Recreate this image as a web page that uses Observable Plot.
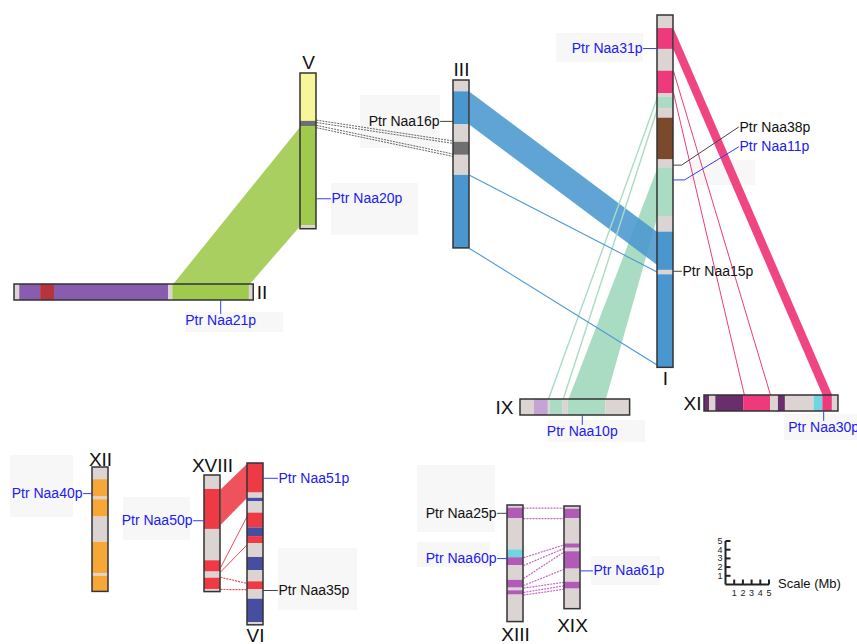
<!DOCTYPE html>
<html><head><meta charset="utf-8">
<script src="https://cdn.jsdelivr.net/npm/d3@7"></script>
<script src="https://cdn.jsdelivr.net/npm/@observablehq/plot@0.6"></script>
<style>body{margin:0;background:#fff}</style>
</head><body><div id="chart"></div>
<script>
// ---------------- DATA (positions along chromosomes in Mb) ----------------
const chromNames     = ["I","II","III","V","IX","XI","XII","XVIII","VI","XIII","XIX"];
const chromLengthsMb = [40.5, 27.5, 19.3, 17.9, 12.6, 15.4, 14.3, 13.4, 18.6, 13.4, 11.8];

// bands: [startMb, endMb, class]
const bandsI     = [[0,1.5,"n"],[1.5,3.9,"pink"],[3.9,6.4,"n"],[6.4,9.0,"pink"],[9.0,9.4,"n"],[9.4,10.7,"mint"],[10.7,11.8,"n"],[11.8,16.6,"brown"],[16.6,17.5,"n"],[17.5,23.1,"mint"],[23.1,24.9,"n"],[24.9,29.3,"blue"],[29.3,29.8,"n"],[29.8,40.5,"blue"]];
const bandsII    = [[0,0.6,"n"],[0.6,3.0,"purple"],[3.0,4.6,"darkred"],[4.6,17.7,"purple"],[17.7,18.2,"n"],[18.2,27.0,"green"],[27.0,27.5,"n"]];
const bandsIII   = [[0,1.3,"n"],[1.3,5.1,"blue"],[5.1,7.1,"n"],[7.1,8.6,"dgray"],[8.6,10.9,"n"],[10.9,19.3,"blue"]];
const bandsV     = [[0,5.5,"yellow"],[5.5,6.1,"dgray"],[6.1,17.5,"green"],[17.5,17.9,"n"]];
const bandsIX    = [[0,1.6,"n"],[1.6,3.2,"lilac"],[3.2,3.4,"n"],[3.4,4.9,"mint"],[4.9,5.5,"n"],[5.5,9.8,"mint"],[9.8,12.6,"n"]];
const bandsXI    = [[0,0.6,"plum"],[0.6,1.3,"n"],[1.3,4.5,"plum"],[4.5,7.6,"pink"],[7.6,8.5,"n"],[8.5,9.3,"plum"],[9.3,12.6,"n"],[12.6,13.6,"cyan"],[13.6,14.7,"pink"],[14.7,15.4,"n"]];
const bandsXII   = [[0,1.4,"n"],[1.4,3.4,"orange"],[3.4,3.7,"n"],[3.7,5.7,"orange"],[5.7,8.6,"n"],[8.6,12.2,"orange"],[12.2,12.5,"n"],[12.5,14.3,"orange"]];
const bandsXVIII = [[0,1.6,"n"],[1.6,6.2,"red"],[6.2,9.8,"n"],[9.8,11.1,"red"],[11.1,11.8,"n"],[11.8,13.1,"red"],[13.1,13.4,"n"]];
const bandsVI    = [[0,3.4,"red"],[3.4,4.0,"n"],[4.0,4.4,"navy"],[4.4,5.7,"n"],[5.7,7.4,"red"],[7.4,8.4,"navy"],[8.4,9.2,"red"],[9.2,10.8,"n"],[10.8,12.3,"navy"],[12.3,13.6,"n"],[13.6,14.5,"red"],[14.5,15.6,"n"],[15.6,18.3,"navy"],[18.3,18.6,"n"]];
const bandsXIII  = [[0,0.3,"n"],[0.3,1.5,"mauve"],[1.5,5.1,"n"],[5.1,6.0,"cyan"],[6.0,6.9,"mauve"],[6.9,8.6,"n"],[8.6,9.5,"mauve"],[9.5,9.8,"n"],[9.8,10.3,"mauve"],[10.3,13.4,"n"]];
const bandsXIX   = [[0,0.3,"n"],[0.3,1.4,"mauve"],[1.4,4.3,"n"],[4.3,4.8,"mauve"],[4.8,5.2,"n"],[5.2,7.2,"mauve"],[7.2,8.7,"n"],[8.7,9.5,"mauve"],[9.5,11.8,"n"]];
const chromBands = [bandsI,bandsII,bandsIII,bandsV,bandsIX,bandsXI,bandsXII,bandsXVIII,bandsVI,bandsXIII,bandsXIX];

// syntenic blocks: [fromChrom, fromStartMb, fromEndMb, toChrom, toStartMb, toEndMb, class]
const blockLinks = [
  ["V",6.1,17.5,"II",18.2,27.0,"green"],
  ["I",17.5,23.1,"IX",5.5,9.8,"mint"],
  ["III",1.3,5.1,"I",24.9,28.7,"blue"],
  ["I",1.5,3.9,"XI",14.7,13.6,"pink"],
  ["XVIII",1.6,5.7,"VI",0,3.9,"red"]
];
// single-gene links: [fromChrom, fromMb, toChrom, toMb, class]
const pairLinks = [
  ["V",5.5,"III",7.1,"gray"],["V",6.1,"III",8.6,"gray"],
  ["I",9.4,"IX",3.2,"mint"],["I",10.7,"IX",4.9,"mint"],
  ["III",10.9,"I",29.5,"blue"],["III",19.3,"I",40.2,"blue"],
  ["I",6.4,"XI",7.6,"pink"],["I",8.9,"XI",4.6,"pink"],
  ["XVIII",10.6,"VI",6.0,"red"],["XVIII",11.1,"VI",9.3,"red"],
  ["XVIII",11.7,"VI",13.8,"reddot"],["XVIII",13.1,"VI",14.5,"reddot"],
  ["XIII",0.3,"XIX",0.2,"mauve"],["XIII",1.5,"XIX",1.4,"mauve"],
  ["XIII",6.0,"XIX",4.4,"mauve"],["XIII",6.9,"XIX",4.8,"mauve"],
  ["XIII",8.4,"XIX",5.2,"mauve"],["XIII",9.2,"XIX",7.2,"mauve"],
  ["XIII",9.5,"XIX",8.7,"mauve"],["XIII",10.0,"XIX",9.1,"mauve"],
  ["XIII",10.3,"XIX",9.5,"mauve"]
];
// gene labels: [text, chrom, Mb, colour class]
const geneLabels = [
  ["Ptr Naa16p","III",4.7,"k"],["Ptr Naa20p","V",14.4,"b"],["Ptr Naa21p","II",23.7,"b"],
  ["Ptr Naa31p","I",3.8,"b"],["Ptr Naa38p","I",17.2,"k"],["Ptr Naa11p","I",18.9,"b"],
  ["Ptr Naa15p","I",29.4,"k"],["Ptr Naa10p","IX",7.1,"b"],["Ptr Naa30p","XI",13.7,"b"],
  ["Ptr Naa40p","XII",3.0,"b"],["Ptr Naa50p","XVIII",5.2,"b"],["Ptr Naa51p","VI",1.7,"b"],
  ["Ptr Naa35p","VI",14.6,"k"],["Ptr Naa25p","XIII",0.9,"k"],["Ptr Naa60p","XIII",6.1,"b"],
  ["Ptr Naa61p","XIX",7.4,"b"]
];
const scaleTicks = [1,2,3,4,5];
const scaleTitle = "Scale (Mb)";

// ---------------- LAYOUT & STYLE ----------------
const K = 8.7;   // px per Mb
const W = 16;    // chromosome thickness
const layout = {
  I:{x:657,y:15,o:"v",nm:"bottom",g:11}, II:{x:14,y:284,o:"h",nm:"right",g:3},
  III:{x:453,y:80,o:"v",nm:"top",g:11}, V:{x:300,y:73,o:"v",nm:"top",g:11},
  IX:{x:520,y:399,o:"h",nm:"left",g:7}, XI:{x:704,y:395,o:"h",nm:"left",g:3},
  XII:{x:92,y:467,o:"v",nm:"top",g:8}, XVIII:{x:204,y:475,o:"v",nm:"top",g:10},
  VI:{x:247,y:463,o:"v",nm:"bottom",g:11}, XIII:{x:507,y:505,o:"v",nm:"bottom",g:13},
  XIX:{x:564,y:506,o:"v",nm:"bottom",g:17}
};
const labelLayout = {
  "Ptr Naa16p":{side:"left",len:13}, "Ptr Naa20p":{side:"right",len:14}, "Ptr Naa21p":{side:"bottom",len:13},
  "Ptr Naa31p":{side:"left",len:14}, "Ptr Naa38p":{side:"right",elbow:[8,65,-38]}, "Ptr Naa11p":{side:"right",elbow:[11,65,-33]},
  "Ptr Naa15p":{side:"right",len:8}, "Ptr Naa10p":{side:"bottom",len:9}, "Ptr Naa30p":{side:"bottom",len:9},
  "Ptr Naa40p":{side:"left",len:9}, "Ptr Naa50p":{side:"left",len:11}, "Ptr Naa51p":{side:"right",len:14},
  "Ptr Naa35p":{side:"right",len:14}, "Ptr Naa25p":{side:"left",len:10}, "Ptr Naa60p":{side:"left",len:10},
  "Ptr Naa61p":{side:"right",len:12}
};
const labelBoxes = [[10,455,73,517],[123,497,190,540],[278,548,357,610],[417,465,495,532],[417,542,490,567],
  [591,556,660,585],[331,183,418,235],[360,95,440,148],[185,312,283,332],[556,33,643,62],[690,160,755,185],[548,420,645,442],[784,414,857,440]];
const scaleOrigin = {x:725, y:584};

const bandColor = {n:"#dcd3d3",pink:"#ee3a7c",brown:"#7b4a2b",mint:"#a9dcc2",blue:"#4a97d0",purple:"#8a5cb0",
  darkred:"#b5343f",green:"#9fca4e",yellow:"#f8f69b",dgray:"#6f6f6f",lilac:"#c5a3d4",plum:"#6b2e6d",cyan:"#6fd5e0",
  orange:"#f6a738",red:"#ee3a45",navy:"#474ea0",mauve:"#b05cb6"};
const ribbonStyle = {green:["#a8cf60",1],mint:["#a9dcc2",1],blue:["#4a97d0",0.88],pink:["#ef4682",1],red:["#ef525a",1]};
const linkStyle = {gray:["#555",0.9,"2,1"],mint:["#a9dcc2",1.4,null],blue:["#4a98d8",1.1,null],pink:["#ee3a7c",1,null],
  red:["#ee4a55",1,null],reddot:["#ee4a55",1.2,"2,1"],mauve:["#c466cc",1.2,"2,1"]};
const textColor = {b:"#2020ee", k:"#111"};
const FONT = "Liberation Sans, Arial, sans-serif";

// ---------------- GEOMETRY ----------------
const chrom = Object.fromEntries(chromNames.map((n,i)=>[n,{name:n,len:chromLengthsMb[i],bands:chromBands[i],...layout[n]}]));
const center = c => c.o==="v" ? [c.x+W/2, c.y+c.len*K/2] : [c.x+c.len*K/2, c.y+W/2];
const sideToward = (c,o) => { const a=center(c), b=center(o); return c.o==="v" ? (b[0]<a[0]?"left":"right") : (b[1]<a[1]?"top":"bottom"); };
const pt = (c,mb,side) => c.o==="v" ? [side==="left"?c.x:c.x+W, c.y+mb*K] : [c.x+mb*K, side==="top"?c.y:c.y+W];

const bandRects = chromNames.flatMap(n => { const c=chrom[n]; return c.bands.map(([s,e,cl]) => c.o==="v"
  ? {x1:c.x,x2:c.x+W,y1:c.y+s*K,y2:c.y+e*K,fill:bandColor[cl]}
  : {x1:c.x+s*K,x2:c.x+e*K,y1:c.y,y2:c.y+W,fill:bandColor[cl]}); });
const outlines = chromNames.map(n => { const c=chrom[n]; return c.o==="v"
  ? {x1:c.x,x2:c.x+W,y1:c.y,y2:c.y+c.len*K} : {x1:c.x,x2:c.x+c.len*K,y1:c.y,y2:c.y+W}; });

const ribbons = blockLinks.map(([f,a1,a2,t,b1,b2,cl]) => {
  const cf=chrom[f], ct=chrom[t], sf=sideToward(cf,ct), st=sideToward(ct,cf);
  const pts=[pt(cf,a1,sf),pt(ct,b1,st),pt(ct,b2,st),pt(cf,a2,sf)].map(([x,y])=>({x,y}));
  return {pts, cl};
});
const ribbonOrder = ["green","mint","blue","pink","red"];

const links = pairLinks.map(([f,a,t,b,cl]) => {
  const cf=chrom[f], ct=chrom[t];
  const p=pt(cf,a,sideToward(cf,ct)), q=pt(ct,b,sideToward(ct,cf));
  return {x1:p[0],y1:p[1],x2:q[0],y2:q[1],cl};
});

const labels = geneLabels.map(([text,cn,mb,col]) => {
  const c=chrom[cn], L=labelLayout[text], e=pt(c,mb,L.side);
  let path, tx, ty, anchor;
  if (L.side==="left") { path=[e,[e[0]-L.len,e[1]]]; tx=e[0]-L.len-1; ty=e[1]; anchor="end"; }
  else if (L.side==="right" && L.elbow) { const [h,dx,dy]=L.elbow; path=[e,[e[0]+h,e[1]],[e[0]+dx,e[1]+dy]]; tx=e[0]+dx+1; ty=e[1]+dy; anchor="start"; }
  else if (L.side==="right") { path=[e,[e[0]+L.len,e[1]]]; tx=e[0]+L.len+1; ty=e[1]; anchor="start"; }
  else { path=[e,[e[0],e[1]+L.len]]; tx=e[0]; ty=e[1]+L.len+7; anchor="middle"; }
  return {text, col:textColor[col], lead: col==="k"?"#444":"#3040ee", path:path.map(([x,y])=>({x,y,text})), tx, ty, anchor};
});

const names = chromNames.map(n => { const c=chrom[n], [cx,cy]=center(c);
  if (c.nm==="top") return {t:n,x:cx,y:c.y-c.g,a:"middle"};
  if (c.nm==="bottom") return {t:n,x:cx,y:c.y+c.len*K+c.g,a:"middle"};
  if (c.nm==="right") return {t:n,x:c.x+c.len*K+c.g,y:cy,a:"start"};
  return {t:n,x:c.x-c.g,y:cy,a:"end"}; });

// ---------------- MARKS ----------------
const marks = [];
marks.push(Plot.rect(labelBoxes,{x1:d=>d[0],y1:d=>d[1],x2:d=>d[2],y2:d=>d[3],fill:"#f7f7f7"}));
for (const cl of ribbonOrder) for (const r of ribbons.filter(r=>r.cl===cl))
  marks.push(Plot.line(r.pts,{x:"x",y:"y",fill:ribbonStyle[cl][0],fillOpacity:ribbonStyle[cl][1],stroke:"none"}));
for (const cl of Object.keys(linkStyle)) {
  const [s,w,dash]=linkStyle[cl], data=links.filter(l=>l.cl===cl);
  const opts={x1:"x1",y1:"y1",x2:"x2",y2:"y2",stroke:s,strokeWidth:w};
  if (dash) opts.strokeDasharray=dash;
  if (cl==="gray") { marks.push(Plot.link(data,{...opts,dy:-1.2})); marks.push(Plot.link(data,{...opts,dy:1.2})); }
  else marks.push(Plot.link(data,opts));
}
marks.push(Plot.rect(bandRects,{x1:"x1",x2:"x2",y1:"y1",y2:"y2",fill:"fill"}));
marks.push(Plot.rect(outlines,{x1:"x1",x2:"x2",y1:"y1",y2:"y2",fill:"none",stroke:"#333",strokeWidth:1.5}));
for (const lb of labels) marks.push(Plot.line(lb.path,{x:"x",y:"y",stroke:lb.lead,strokeWidth:1}));
for (const a of ["start","end","middle"]) {
  marks.push(Plot.text(labels.filter(l=>l.anchor===a),{x:"tx",y:"ty",text:"text",fill:"col",textAnchor:a,fontSize:14,fontFamily:FONT}));
  marks.push(Plot.text(names.filter(l=>l.a===a),{x:"x",y:"y",text:"t",fill:"#111",textAnchor:a,fontSize:19,fontFamily:FONT}));
}
// scale bar
const O=scaleOrigin, top5=O.y-5*K, right5=O.x+5*K;
marks.push(Plot.link([{x1:O.x,y1:top5,x2:O.x,y2:O.y},{x1:O.x,y1:O.y,x2:right5,y2:O.y}],{x1:"x1",y1:"y1",x2:"x2",y2:"y2",stroke:"#222",strokeWidth:2}));
marks.push(Plot.link(scaleTicks,{x1:O.x,x2:O.x+5,y1:d=>O.y-d*K,y2:d=>O.y-d*K,stroke:"#222",strokeWidth:2}));
marks.push(Plot.link(scaleTicks,{x1:d=>O.x+d*K,x2:d=>O.x+d*K,y1:O.y,y2:O.y-5,stroke:"#222",strokeWidth:2}));
marks.push(Plot.text(scaleTicks,{x:O.x-3,y:d=>O.y-d*K,text:d=>String(d),textAnchor:"end",fontSize:9,fontFamily:FONT,fill:"#222"}));
marks.push(Plot.text(scaleTicks,{x:d=>O.x+d*K,y:O.y+9,text:d=>String(d),fontSize:9,fontFamily:FONT,fill:"#222"}));
marks.push(Plot.text([scaleTitle],{x:right5+9,y:O.y-1,text:d=>d,textAnchor:"start",fontSize:13,fontFamily:FONT,fill:"#111"}));

const chart = Plot.plot({
  width:857, height:644, margin:0,
  x:{domain:[0,857],range:[0,857],axis:null},
  y:{domain:[0,644],range:[0,644],axis:null},
  color:{type:"identity"},
  style:{background:"#fff",fontFamily:FONT,overflow:"visible"},
  marks
});
document.getElementById("chart").appendChild(chart);
</script>
</body></html>
